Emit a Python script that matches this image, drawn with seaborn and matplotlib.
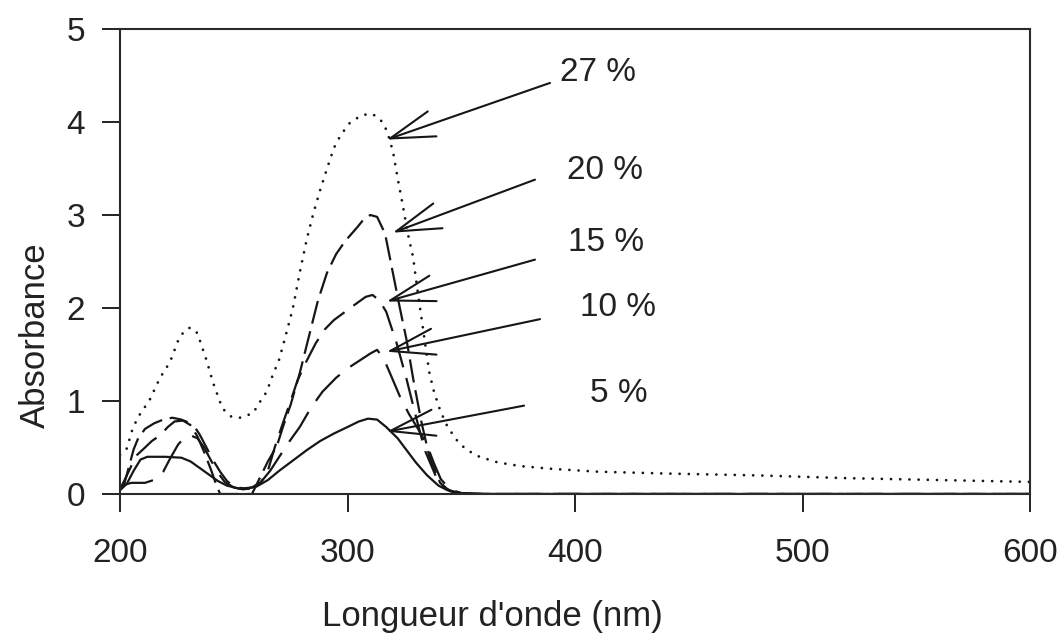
import matplotlib
matplotlib.use("Agg")
import matplotlib.pyplot as plt
import numpy as np
import pandas as pd
import seaborn as sns

# UV-visible absorption spectra for several concentrations
labels = ["5 %", "10 %", "15 %", "20 %", "27 %"]

wl_5 = [200, 203, 206, 209, 212, 220, 227, 231, 235, 239, 243, 247, 252, 256, 260,
        265, 270, 276, 282, 288, 294, 300, 305, 309, 313, 317, 322, 326, 330, 335,
        340, 344, 350, 360, 600]
abs_5 = [0.04, 0.11, 0.25, 0.37, 0.40, 0.40, 0.39, 0.35, 0.28, 0.21, 0.14, 0.09, 0.06, 0.06, 0.08,
         0.15, 0.25, 0.36, 0.47, 0.57, 0.65, 0.72, 0.78, 0.81, 0.80, 0.72, 0.60, 0.47, 0.34, 0.20,
         0.09, 0.04, 0.01, 0.0, 0.0]

wl_10 = [200, 202, 205, 211, 216, 219, 222, 225.5, 228, 231, 234, 237, 240, 243, 246,
         250, 254, 258, 262, 266, 270, 274, 279, 284, 289, 295, 300, 305, 310, 313,
         316, 319, 323, 327, 331, 335, 338, 341, 345, 350, 360, 600]
abs_10 = [0.05, 0.10, 0.12, 0.12, 0.16, 0.24, 0.38, 0.53, 0.60, 0.63, 0.60, 0.50, 0.36, 0.23, 0.13,
          0.07, 0.05, 0.06, 0.13, 0.25, 0.40, 0.55, 0.72, 0.93, 1.10, 1.25, 1.35, 1.43, 1.51, 1.55,
          1.45, 1.28, 1.05, 0.86, 0.70, 0.52, 0.33, 0.16, 0.05, 0.01, 0.0, 0.0]

wl_15 = [200, 203, 205.5, 207.5, 211, 214, 217.6, 221, 224, 228, 232, 235, 238, 241, 244,
         247, 250, 254, 258, 262, 265, 268, 271, 274.7, 278, 282, 286, 290, 294, 299, 304,
         308, 311, 314, 317, 321.6, 326, 330.4, 334, 339, 343, 348, 355, 600]
abs_15 = [0.05, 0.20, 0.33, 0.42, 0.50, 0.57, 0.63, 0.72, 0.78, 0.79, 0.75, 0.64, 0.50, 0.36, 0.24,
          0.14, 0.08, 0.06, 0.07, 0.13, 0.25, 0.50, 0.72, 0.98, 1.22, 1.43, 1.62, 1.77, 1.87, 1.96, 2.05,
          2.12, 2.14, 2.08, 1.96, 1.62, 1.23, 0.80, 0.47, 0.18, 0.06, 0.01, 0.0, 0.0]

wl_20 = [200, 202, 204, 206, 208, 211, 215, 219, 223, 227, 231, 234, 237, 240, 242,
         244, 258, 261, 265, 269, 272, 275, 279, 283.5, 287, 291, 295, 299, 304, 307, 310,
         313, 316.5, 320, 323, 326, 329, 332.6, 336, 340.7, 345, 350, 600]
abs_20 = [0.05, 0.12, 0.30, 0.48, 0.60, 0.70, 0.76, 0.80, 0.82, 0.80, 0.74, 0.62, 0.45, 0.26, 0.12,
          0.0, 0.0, 0.15, 0.35, 0.52, 0.75, 0.96, 1.30, 1.74, 2.08, 2.38, 2.58, 2.72, 2.86, 2.95, 3.00,
          2.98, 2.80, 2.37, 2.00, 1.65, 1.22, 0.76, 0.40, 0.12, 0.03, 0.0, 0.0]

wl_27 = [200, 203, 205.5, 208, 213, 217.6, 222, 226, 229, 231, 234, 238, 241, 245, 249,
         253, 258.5, 261.5, 264.5, 267, 270, 273, 276, 279, 282, 285, 288, 291, 294, 297,
         301, 306, 310, 313, 316, 318, 320, 322, 324.4, 326.5, 328.8, 330.7, 332.7, 334.5, 336,
         338, 340.7, 344, 348, 352, 358, 366, 376, 390, 410, 440, 480, 520, 560, 600]
abs_27 = [0.42, 0.49, 0.70, 0.83, 1.01, 1.25, 1.42, 1.68, 1.77, 1.79, 1.73, 1.44, 1.19, 0.92, 0.83,
          0.82, 0.87, 0.99, 1.10, 1.27, 1.45, 1.72, 2.00, 2.38, 2.73, 3.02, 3.27, 3.50, 3.72, 3.86,
          3.99, 4.07, 4.09, 4.06, 3.98, 3.85, 3.68, 3.40, 3.09, 2.80, 2.55, 2.20, 1.86, 1.55, 1.30,
          1.10, 0.90, 0.72, 0.58, 0.48, 0.40, 0.34, 0.30, 0.27, 0.24, 0.22, 0.20, 0.17, 0.15, 0.13]

# Annotation arrows: tail (near the label) -> tip (on the curve)
arrow_tail_x = [377.6, 384.6, 382.4, 382.4, 389.0]
arrow_tail_y = [0.95, 1.88, 2.52, 3.38, 4.42]
arrow_tip_x = [317.2, 317.2, 317.2, 319.9, 317.2]
arrow_tip_y = [0.67, 1.53, 2.07, 2.81, 3.81]
label_x = [419.1, 418.7, 413.6, 413.2, 410.0]
label_y = [1.08, 2.00, 2.70, 3.48, 4.53]

x_ticks = [200, 300, 400, 500, 600]
y_ticks = [0, 1, 2, 3, 4, 5]

series = {"5 %": (wl_5, abs_5), "10 %": (wl_10, abs_10), "15 %": (wl_15, abs_15),
          "20 %": (wl_20, abs_20), "27 %": (wl_27, abs_27)}

# line style per concentration: (dash pattern, width, cap style)
styles = {
    "5 %": (None, 1.6, "butt"),
    "10 %": ((16, 6), 1.6, "butt"),
    "15 %": ((12, 5), 1.6, "butt"),
    "20 %": ((10.5, 3.5), 1.6, "butt"),
    "27 %": ((0.01, 3.3), 2.0, "round"),
}

sns.set_style("ticks")
plt.rcParams["font.family"] = ["Liberation Sans", "DejaVu Sans"]

fig = plt.figure(figsize=(10.63, 6.37), dpi=100)
ax = fig.add_axes([0.1129, 0.2245, 0.8561, 0.7300])

ink = "#161616"
for name in labels:
    w, a = series[name]
    dashes, lw, cap = styles[name]
    d = pd.DataFrame({"wl": w, "A": a})
    kw = dict(dashes=dashes) if dashes else {}
    sns.lineplot(data=d, x="wl", y="A", color=ink, lw=lw, estimator=None, sort=False,
                 ax=ax, dash_capstyle=cap, **kw)

for tx, ty, hx, hy, lx, ly, name in zip(arrow_tail_x, arrow_tail_y, arrow_tip_x, arrow_tip_y,
                                        label_x, label_y, labels):
    ax.annotate("", xy=(hx, hy), xytext=(tx, ty),
                arrowprops=dict(arrowstyle="->,head_length=3.2,head_width=0.95",
                                lw=1.5, color=ink, shrinkA=0, shrinkB=0,
                                mutation_scale=10))
    ax.text(lx, ly, name, ha="center", va="center", fontsize=24, color="#222222")

ax.set_xlim(200, 600)
ax.set_ylim(0, 5)
ax.set_xticks(x_ticks)
ax.set_yticks(y_ticks)
ax.tick_params(axis="both", direction="out", length=13, width=1.4, labelsize=24,
               colors="#222222")
ax.tick_params(axis="x", pad=19)
ax.tick_params(axis="y", pad=12)
for sp in ax.spines.values():
    sp.set_visible(True)
    sp.set_linewidth(1.5)
    sp.set_color("#2a2a2a")

ax.set_xlabel("Longueur d'onde (nm)", fontsize=25, color="#222222")
ax.set_ylabel("Absorbance", fontsize=25, color="#222222")
ax.xaxis.set_label_coords(0.409, -0.228)
ax.yaxis.set_label_coords(-0.075, 0.342)

fig.savefig("out.png", dpi=100, facecolor="white")
